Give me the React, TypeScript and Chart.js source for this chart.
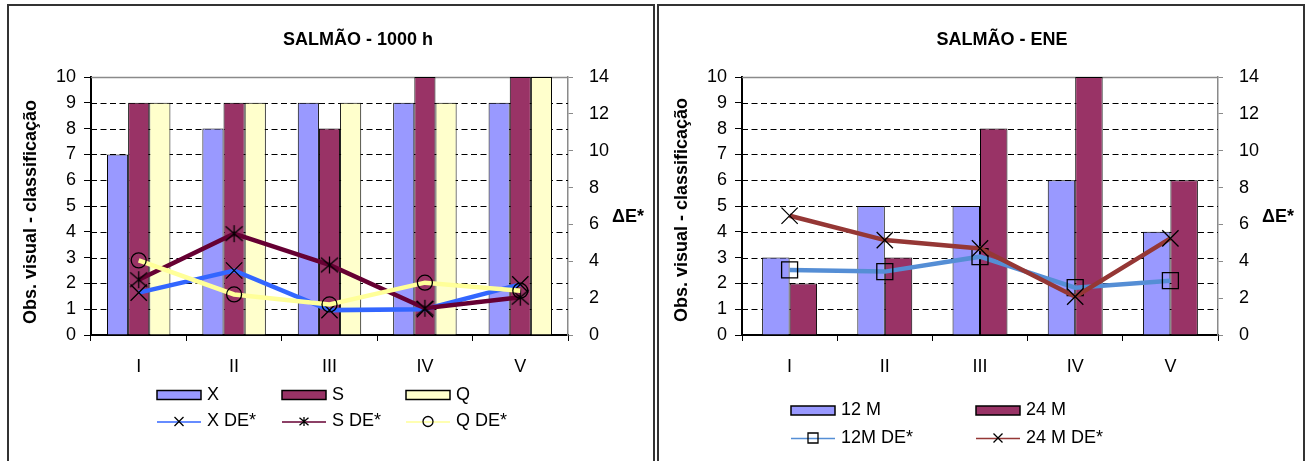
import React, { useEffect, useRef } from 'react';
import { Chart, registerables } from 'chart.js';

Chart.register(...registerables);

// ---------- data ----------
const CATEGORIES = ['I', 'II', 'III', 'IV', 'V'];

// Left chart: SALMÃO - 1000 h
const X_VALUES = [7, 8, 9, 9, 9];
const S_VALUES = [9, 9, 8, 10, 10];
const Q_VALUES = [9, 9, 9, 9, 10];
const X_DE = [2.3, 3.5, 1.35, 1.4, 2.75];
const S_DE = [3.0, 5.5, 3.8, 1.45, 2.05];
const Q_DE = [4.05, 2.2, 1.66, 2.84, 2.4];

// Right chart: SALMÃO - ENE
const M12_VALUES = [3, 5, 5, 6, 4];
const M24_VALUES = [2, 3, 8, 10, 6];
const M12_DE = [3.53, 3.44, 4.25, 2.57, 2.95];
const M24_DE = [6.47, 5.15, 4.7, 2.08, 5.24];

const LEFT_TICKS = [0, 1, 2, 3, 4, 5, 6, 7, 8, 9, 10];
const RIGHT_TICKS = [0, 2, 4, 6, 8, 10, 12, 14];

const TITLE_LEFT = 'SALMÃO - 1000 h';
const TITLE_RIGHT = 'SALMÃO - ENE';
const Y_TITLE = 'Obs. visual - classificação';
const Y1_TITLE = 'ΔE*';

// ---------- styles ----------
const FONT = '"Liberation Sans", Arial, Helvetica, sans-serif';
const C_BLUE_BAR = '#9999FF';
const C_MAROON_BAR = '#993366';
const C_YELLOW_BAR = '#FFFFCC';
const C_X_LINE = '#3366FF';
const C_S_LINE = '#660033';
const C_Q_LINE = '#FFFF99';
const C_12_LINE = '#558ED5';
const C_24_LINE = '#953735';

type MarkerKind = 'x' | 'star' | 'circle' | 'square';

function drawMarker(ctx: CanvasRenderingContext2D, kind: MarkerKind, x: number, y: number, r: number) {
  ctx.save();
  ctx.strokeStyle = '#000';
  ctx.lineWidth = 1.3;
  ctx.beginPath();
  if (kind === 'x') {
    ctx.moveTo(x - r, y - r); ctx.lineTo(x + r, y + r);
    ctx.moveTo(x - r, y + r); ctx.lineTo(x + r, y - r);
  } else if (kind === 'star') {
    ctx.moveTo(x - r, y - r * 0.85); ctx.lineTo(x + r, y + r * 0.85);
    ctx.moveTo(x - r, y + r * 0.85); ctx.lineTo(x + r, y - r * 0.85);
    ctx.moveTo(x, y - r); ctx.lineTo(x, y + r);
  } else if (kind === 'circle') {
    ctx.arc(x, y, r, 0, Math.PI * 2);
  } else {
    ctx.rect(x - r, y - r, 2 * r, 2 * r);
  }
  ctx.stroke();
  ctx.restore();
}

function makeStarImage(r: number): HTMLCanvasElement {
  const c = document.createElement('canvas');
  const s = Math.ceil(2 * r + 4);
  c.width = s; c.height = s;
  const ctx = c.getContext('2d')!;
  drawMarker(ctx, 'star', s / 2, s / 2, r);
  return c;
}

interface LegendItem { label: string; color: string; kind: 'box' | MarkerKind; x: number; row: number; }
interface DecorSpec {
  title: string; titleX: number; titleY: number;
  yTitleX: number; yTitleY: number;
  dX: number; dY: number;
  rowY: number[];
  legend: LegendItem[];
}

function makeDecorPlugin(spec: DecorSpec) {
  return {
    id: 'decor',
    beforeDatasetsDraw(chart: any) {
      const { ctx, chartArea, scales } = chart;
      const y = scales.y;
      ctx.save();
      for (const v of LEFT_TICKS) {
        if (v === 0) continue;
        const py = Math.round(y.getPixelForValue(v)) + 0.5;
        ctx.beginPath();
        if (v === LEFT_TICKS[LEFT_TICKS.length - 1]) {
          ctx.setLineDash([]);
          ctx.strokeStyle = '#8a8a8a';
          ctx.lineWidth = 1.5;
        } else {
          ctx.setLineDash([6, 3.5]);
          ctx.strokeStyle = '#000';
          ctx.lineWidth = 1.1;
        }
        ctx.moveTo(chartArea.left, py);
        ctx.lineTo(chartArea.right, py);
        ctx.stroke();
      }
      ctx.restore();
    },
    afterDraw(chart: any) {
      const { ctx } = chart;
      ctx.save();
      ctx.fillStyle = '#000';
      ctx.textBaseline = 'middle';
      ctx.textAlign = 'center';
      ctx.font = `bold 18px ${FONT}`;
      ctx.fillText(spec.title, spec.titleX, spec.titleY);
      ctx.fillText(Y1_TITLE, spec.dX, spec.dY);
      ctx.save();
      ctx.translate(spec.yTitleX, spec.yTitleY);
      ctx.rotate(-Math.PI / 2);
      ctx.fillText(Y_TITLE, 0, 0);
      ctx.restore();

      ctx.font = `18px ${FONT}`;
      ctx.textAlign = 'left';
      const W = 44;
      for (const it of spec.legend) {
        const cy = spec.rowY[it.row];
        if (it.kind === 'box') {
          ctx.fillStyle = it.color;
          ctx.fillRect(it.x, cy - 4.5, W, 9);
          ctx.strokeStyle = '#000';
          ctx.lineWidth = 1.5;
          ctx.strokeRect(it.x, cy - 4.5, W, 9);
        } else {
          ctx.strokeStyle = it.color;
          ctx.lineWidth = 1.5;
          ctx.beginPath();
          ctx.moveTo(it.x, cy + 0.5);
          ctx.lineTo(it.x + W, cy + 0.5);
          ctx.stroke();
          const rr = it.kind === 'circle' ? 5 : it.kind === 'square' ? 5 : 4.5;
          drawMarker(ctx, it.kind, it.x + W / 2, cy, rr);
        }
        ctx.fillStyle = '#000';
        ctx.fillText(it.label, it.x + W + 6, cy);
      }
      ctx.restore();
    },
  };
}

function makeScales(plotLeft: number, plotRight: number, width: number, catPct: number) {
  const tickFont = { family: FONT, size: 18 };
  return {
    x: {
      type: 'category',
      offset: true,
      grid: { offset: true, drawOnChartArea: false, drawTicks: true, tickLength: 6, color: '#000', lineWidth: 1 },
      border: { display: true, color: '#000', width: 2 },
      ticks: { font: tickFont, color: '#000', padding: 15, maxRotation: 0, autoSkip: false },
      afterFit: (s: any) => { s.height = 461 - 335; },
    },
    y: {
      position: 'left',
      min: 0,
      max: 10,
      afterBuildTicks: (s: any) => { s.ticks = LEFT_TICKS.map((v) => ({ value: v })); },
      grid: { drawOnChartArea: false, drawTicks: true, tickLength: 7, color: '#000', lineWidth: 1 },
      border: { display: true, color: '#000', width: 2 },
      ticks: { font: tickFont, color: '#000', padding: 8 },
      afterFit: (s: any) => { s.width = plotLeft; },
    },
    y1: {
      position: 'right',
      min: 0,
      max: 14,
      afterBuildTicks: (s: any) => { s.ticks = RIGHT_TICKS.map((v) => ({ value: v })); },
      grid: { drawOnChartArea: false, drawTicks: true, tickLength: 5, color: '#8a8a8a', lineWidth: 1 },
      border: { display: true, color: '#8a8a8a', width: 1.5 },
      ticks: { font: tickFont, color: '#000', padding: 16 },
      afterFit: (s: any) => { s.width = width - plotRight; },
    },
  };
}

function barDS(label: string, data: number[], color: string, catPct: number) {
  return {
    type: 'bar', label, data, yAxisID: 'y',
    backgroundColor: color, borderColor: '#000', borderWidth: 1,
    categoryPercentage: catPct, barPercentage: 1, order: 10,
  };
}

function lineDS(label: string, data: number[], color: string, pointStyle: any, radius: number, order: number) {
  return {
    type: 'line', label, data, yAxisID: 'y1',
    borderColor: color, borderWidth: 4.5, tension: 0, fill: false,
    pointStyle, pointRadius: radius, pointHoverRadius: radius,
    pointBorderColor: '#000', pointBackgroundColor: 'rgba(0,0,0,0)', pointBorderWidth: 1.3,
    order,
  };
}

function baseOptions(plotLeft: number, plotRight: number, width: number, catPct: number) {
  return {
    responsive: false,
    maintainAspectRatio: false,
    animation: false,
    events: [],
    layout: { padding: { top: 77, left: 0, right: 0, bottom: 0 } },
    plugins: { legend: { display: false }, title: { display: false }, tooltip: { enabled: false } },
    scales: makeScales(plotLeft, plotRight, width, catPct),
  };
}

export default function App() {
  const leftRef = useRef<HTMLCanvasElement>(null);
  const rightRef = useRef<HTMLCanvasElement>(null);

  useEffect(() => {
    const star = makeStarImage(8.5);
    const leftCat = 0.665;
    const rightCat = 0.577;

    const c1 = new Chart(leftRef.current as HTMLCanvasElement, {
      type: 'bar',
      data: {
        labels: CATEGORIES,
        datasets: [
          lineDS('Q DE*', Q_DE, C_Q_LINE, 'circle', 7.5, 0),
          lineDS('S DE*', S_DE, C_S_LINE, star, 8, 1),
          lineDS('X DE*', X_DE, C_X_LINE, 'crossRot', 11.5, 2),
          barDS('X', X_VALUES, C_BLUE_BAR, leftCat),
          barDS('S', S_VALUES, C_MAROON_BAR, leftCat),
          barDS('Q', Q_VALUES, C_YELLOW_BAR, leftCat),
        ] as any,
      },
      options: baseOptions(91, 568, 655, leftCat) as any,
      plugins: [makeDecorPlugin({
        title: TITLE_LEFT, titleX: 358, titleY: 40,
        yTitleX: 31, yTitleY: 212,
        dX: 628, dY: 217,
        rowY: [395, 421.5],
        legend: [
          { label: 'X', color: C_BLUE_BAR, kind: 'box', x: 157, row: 0 },
          { label: 'S', color: C_MAROON_BAR, kind: 'box', x: 282, row: 0 },
          { label: 'Q', color: C_YELLOW_BAR, kind: 'box', x: 406, row: 0 },
          { label: 'X DE*', color: C_X_LINE, kind: 'x', x: 157, row: 1 },
          { label: 'S DE*', color: C_S_LINE, kind: 'star', x: 282, row: 1 },
          { label: 'Q DE*', color: C_Q_LINE, kind: 'circle', x: 406, row: 1 },
        ],
      }) as any],
    });

    const c2 = new Chart(rightRef.current as HTMLCanvasElement, {
      type: 'bar',
      data: {
        labels: CATEGORIES,
        datasets: [
          lineDS('24 M DE*', M24_DE, C_24_LINE, 'crossRot', 11.5, 0),
          lineDS('12M DE*', M12_DE, C_12_LINE, 'rect', 11.3, 1),
          barDS('12 M', M12_VALUES, C_BLUE_BAR, rightCat),
          barDS('24 M', M24_VALUES, C_MAROON_BAR, rightCat),
        ] as any,
      },
      options: baseOptions(87, 563, 655, rightCat) as any,
      plugins: [makeDecorPlugin({
        title: TITLE_RIGHT, titleX: 347, titleY: 40,
        yTitleX: 27, yTitleY: 210,
        dX: 623, dY: 217,
        rowY: [410.5, 438],
        legend: [
          { label: '12 M', color: C_BLUE_BAR, kind: 'box', x: 136, row: 0 },
          { label: '24 M', color: C_MAROON_BAR, kind: 'box', x: 321, row: 0 },
          { label: '12M DE*', color: C_12_LINE, kind: 'square', x: 136, row: 1 },
          { label: '24 M DE*', color: C_24_LINE, kind: 'x', x: 321, row: 1 },
        ],
      }) as any],
    });

    return () => { c1.destroy(); c2.destroy(); };
  }, []);

  const panel: React.CSSProperties = {
    position: 'absolute', top: 4, width: 648, height: 480,
    border: '2px solid #333', boxSizing: 'border-box',
  };

  return (
    <div style={{ position: 'absolute', left: 0, top: 0, width: 1310, height: 461, overflow: 'hidden', background: '#fff' }}>
      <div style={{ ...panel, left: 7 }} />
      <div style={{ ...panel, left: 657 }} />
      <canvas ref={leftRef} width={655} height={461}
        style={{ position: 'absolute', left: 0, top: 0, width: 655, height: 461 }} />
      <canvas ref={rightRef} width={655} height={461}
        style={{ position: 'absolute', left: 655, top: 0, width: 655, height: 461 }} />
    </div>
  );
}
